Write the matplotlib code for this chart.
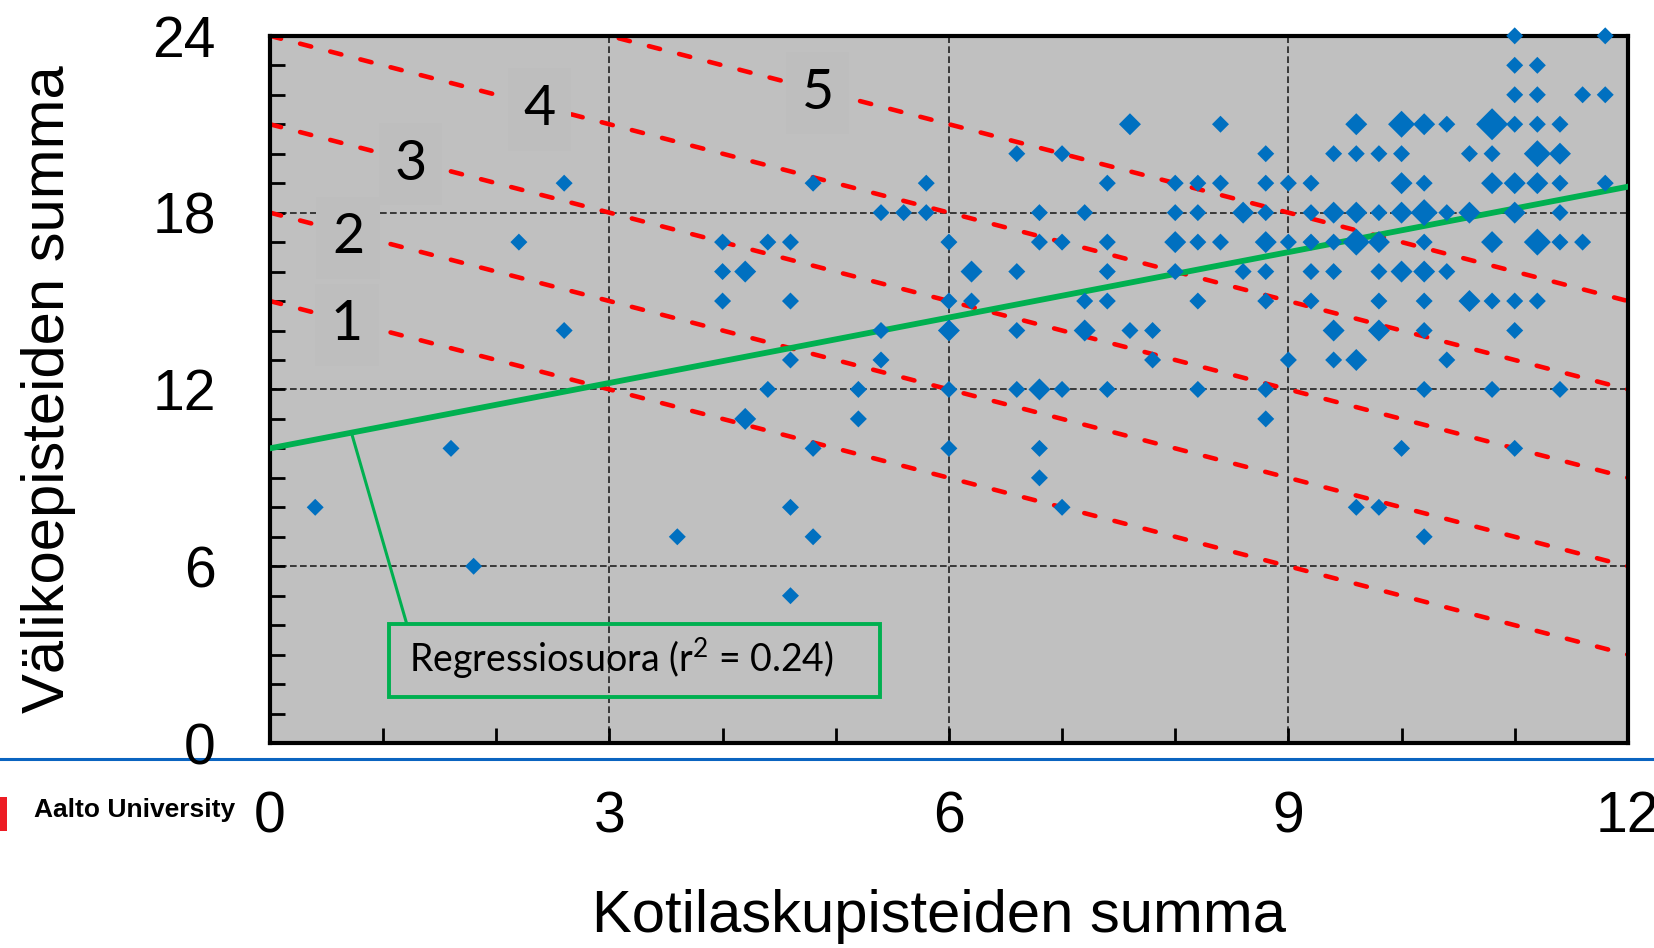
import numpy as np
import matplotlib.pyplot as plt
from matplotlib.lines import Line2D
from matplotlib.patches import Rectangle
from matplotlib.ticker import MultipleLocator

plt.rcParams['mathtext.fontset'] = 'custom'
plt.rcParams['mathtext.rm'] = 'Lato'
plt.rcParams['mathtext.default'] = 'regular'

# Kotilaskupisteet (x), valikoepisteet (y) and number of students at the same spot
pts_x = [0.4, 1.6, 1.8, 2.2, 2.6, 2.6, 3.6,
         4.0, 4.0, 4.0, 4.2, 4.2, 4.4, 4.4,
         4.6, 4.6, 4.6, 4.6, 4.6, 4.8, 4.8, 4.8,
         5.2, 5.2, 5.4, 5.4, 5.4, 5.6, 5.8, 5.8,
         6.0, 6.0, 6.0, 6.0, 6.0, 6.2, 6.2,
         6.6, 6.6, 6.6, 6.6, 6.8, 6.8, 6.8, 6.8, 6.8,
         7.0, 7.0, 7.0, 7.0, 7.2, 7.2, 7.2,
         7.4, 7.4, 7.4, 7.4, 7.4, 7.6, 7.6, 7.8, 7.8,
         8.0, 8.0, 8.0, 8.0, 8.2, 8.2, 8.2, 8.2, 8.2,
         8.4, 8.4, 8.4, 8.6, 8.6,
         8.8, 8.8, 8.8, 8.8, 8.8, 8.8, 8.8, 8.8,
         9.0, 9.0, 9.0, 9.2, 9.2, 9.2, 9.2, 9.2,
         9.4, 9.4, 9.4, 9.4, 9.4, 9.4,
         9.6, 9.6, 9.6, 9.6, 9.6, 9.6,
         9.8, 9.8, 9.8, 9.8, 9.8, 9.8, 9.8,
         10.0, 10.0, 10.0, 10.0, 10.0, 10.0,
         10.2, 10.2, 10.2, 10.2, 10.2, 10.2, 10.2, 10.2, 10.2,
         10.4, 10.4, 10.4, 10.4, 10.6, 10.6, 10.6,
         10.8, 10.8, 10.8, 10.8, 10.8, 10.8,
         11.0, 11.0, 11.0, 11.0, 11.0, 11.0, 11.0, 11.0, 11.0,
         11.2, 11.2, 11.2, 11.2, 11.2, 11.2, 11.2,
         11.4, 11.4, 11.4, 11.4, 11.4, 11.4,
         11.6, 11.6, 11.8, 11.8, 11.8]
pts_y = [8, 10, 6, 17, 19, 14, 7,
         17, 16, 15, 16, 11, 17, 12,
         17, 15, 13, 8, 5, 19, 10, 7,
         12, 11, 18, 14, 13, 18, 19, 18,
         17, 15, 14, 12, 10, 16, 15,
         20, 16, 14, 12, 18, 17, 12, 10, 9,
         20, 17, 12, 8, 18, 15, 14,
         19, 17, 16, 15, 12, 21, 14, 14, 13,
         19, 18, 17, 16, 19, 18, 17, 15, 12,
         21, 19, 17, 18, 16,
         20, 19, 18, 17, 16, 15, 12, 11,
         19, 17, 13, 19, 18, 17, 16, 15,
         20, 18, 17, 16, 14, 13,
         21, 20, 18, 17, 13, 8,
         20, 18, 17, 16, 15, 14, 8,
         21, 20, 19, 18, 16, 10,
         21, 19, 18, 17, 16, 15, 14, 12, 7,
         21, 18, 16, 13, 20, 18, 15,
         21, 20, 19, 17, 15, 12,
         24, 23, 22, 21, 19, 18, 15, 14, 10,
         23, 22, 21, 20, 19, 17, 15,
         21, 20, 19, 18, 17, 12,
         22, 17, 24, 22, 19]
pts_n = [1, 1, 1, 1, 1, 1, 1,
         1, 1, 1, 2, 2, 1, 1,
         1, 1, 1, 1, 1, 1, 1, 1,
         1, 1, 1, 1, 1, 1, 1, 1,
         1, 1, 2, 1, 1, 2, 1,
         1, 1, 1, 1, 1, 1, 2, 1, 1,
         1, 1, 1, 1, 1, 1, 2,
         1, 1, 1, 1, 1, 2, 1, 1, 1,
         1, 1, 2, 1, 1, 1, 1, 1, 1,
         1, 1, 1, 2, 1,
         1, 1, 1, 2, 1, 1, 1, 1,
         1, 1, 1, 1, 1, 1, 1, 1,
         1, 2, 1, 1, 2, 1,
         2, 1, 2, 3, 2, 1,
         1, 1, 2, 1, 1, 2, 1,
         3, 1, 2, 2, 2, 1,
         2, 1, 3, 1, 2, 1, 1, 1, 1,
         1, 1, 1, 1, 1, 2, 2,
         4, 1, 2, 2, 1, 1,
         1, 1, 1, 1, 2, 2, 1, 1, 1,
         1, 1, 1, 3, 2, 3, 1,
         1, 2, 1, 1, 1, 1,
         1, 1, 1, 1, 1]

# grade boundaries: valikoe + kotilasku = const
grade_sums = [15, 18, 21, 24, 27]
grade_labels = ['1', '2', '3', '4', '5']
grade_label_x = [0.68, 0.69, 1.24, 2.38, 4.84]
grade_label_y = [14.2, 17.15, 19.65, 21.5, 22.05]

# regression line
reg_a = 10.0
reg_b = 0.74
reg_r2 = 0.24

x_ticks = [0, 3, 6, 9, 12]
y_ticks = [0, 6, 12, 18, 24]

DPI = 100
fig = plt.figure(figsize=(16.54, 9.48), dpi=DPI)
ax = fig.add_axes([0.1632, 0.2162, 0.821, 0.746])
ax.set_facecolor('#c0c0c0')

ax.set_xlim(0, 12)
ax.set_ylim(0, 24)
ax.set_axisbelow(True)
ax.grid(True, which='major', color='#222222', lw=1.2, ls=(0, (4, 2)))

xs = np.linspace(0, 12, 200)
for c in grade_sums:
    ax.plot(xs, c - xs, color='#ff0000', lw=3.3, ls=(0, (2.5, 4.3)),
            dash_capstyle='round', zorder=2)

for lab, lx, ly in zip(grade_labels, grade_label_x, grade_label_y):
    ax.text(lx, ly, lab, fontsize=40, family='Lato', ha='center', va='center', zorder=3,
            bbox=dict(boxstyle='square,pad=0.28', fc='#bebebe', ec='none'))

ax.plot(xs, reg_a + reg_b * xs, color='#00b050', lw=4.2, zorder=4)

# marker diagonal grows with the count
diag_px = 12 + 5 * np.array(pts_n)
sizes = (diag_px * 72 / DPI / np.sqrt(2)) ** 2
ax.scatter(pts_x, pts_y, s=sizes, marker='D', color='#0070c0', linewidths=0,
           zorder=5, clip_on=False)

# regression label box with leader line
box_x0, box_x1, box_y0, box_y1 = 1.052, 5.39, 1.55, 4.03
ax.add_patch(Rectangle((box_x0, box_y0), box_x1 - box_x0, box_y1 - box_y0,
                       fill=False, ec='#00b050', lw=2.8, zorder=6))
ax.text(1.229, 2.41, 'Regressiosuora (r$^{2}$ = %.2f)' % reg_r2, fontsize=27,
        family='Lato', ha='left', va='baseline', zorder=6)
lead_x = 0.72
ax.plot([lead_x, 1.21], [reg_a + reg_b * lead_x, box_y1], color='#00b050',
        lw=2.2, zorder=6, solid_capstyle='butt')

ax.set_xticks(x_ticks)
ax.set_yticks(y_ticks)
ax.xaxis.set_minor_locator(MultipleLocator(1))
ax.yaxis.set_minor_locator(MultipleLocator(1))
ax.tick_params(which='both', direction='in', length=11, width=2, color='black')
ax.tick_params(axis='x', which='major', pad=34, labelsize=41)
ax.tick_params(axis='y', which='major', pad=39, labelsize=41)
for lbl in ax.get_xticklabels() + ax.get_yticklabels():
    lbl.set_family('Liberation Sans')
for sp in ax.spines.values():
    sp.set_linewidth(3)
    sp.set_color('black')

ax.set_xlabel('Kotilaskupisteiden summa', fontsize=43, family='Liberation Sans')
ax.xaxis.set_label_coords(0.493, -0.207)
ax.set_ylabel('Välikoepisteiden summa', fontsize=43, family='Liberation Sans')
ax.yaxis.set_label_coords(-0.143, 0.5)

# slide footer
fig.add_artist(Line2D([0, 1], [0.1994, 0.1994], transform=fig.transFigure,
                      color='#0a64c0', lw=2.2, zorder=0))
fig.text(0.0205, 0.1455, 'Aalto University', fontsize=19, family='Liberation Sans',
         weight='bold', ha='left', va='center')
fig.add_artist(Rectangle((0, 0.123), 0.004, 0.036, transform=fig.transFigure,
                         color='#ed1c24', lw=0))

fig.savefig('out.png', dpi=DPI)
